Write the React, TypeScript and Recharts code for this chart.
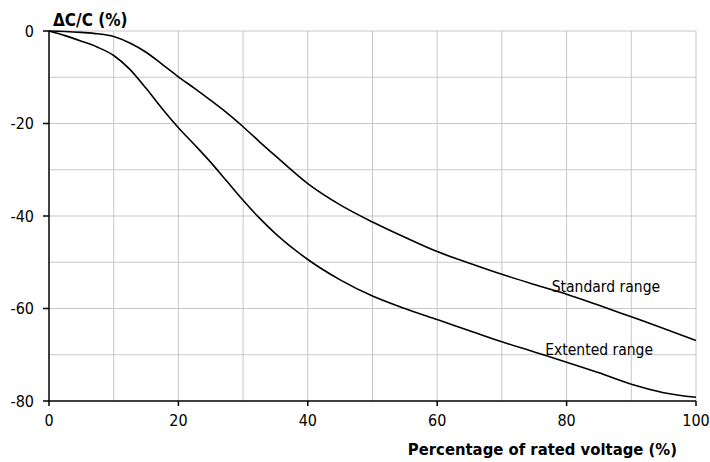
import React from 'react'
import { LineChart, Line, XAxis, YAxis, CartesianGrid, ReferenceDot } from 'recharts'

const voltage = [0, 2.5, 5, 7.5, 10, 12.5, 15, 17.5, 20, 22.5, 25, 27.5, 30, 32.5, 35, 40, 45, 50, 55, 60, 65, 70, 75, 80, 85, 90, 95, 100]
const standardRange = [0, -0.1, -0.3, -0.6, -1.2, -2.6, -4.6, -7.2, -9.9, -12.4, -15.0, -17.7, -20.7, -23.9, -27.0, -33.0, -37.6, -41.3, -44.6, -47.7, -50.2, -52.6, -54.8, -56.9, -59.3, -61.8, -64.3, -66.9]
const extendedRange = [0, -1.0, -2.2, -3.5, -5.3, -8.3, -12.4, -16.8, -20.9, -24.6, -28.4, -32.5, -36.6, -40.4, -43.8, -49.4, -53.8, -57.3, -60.0, -62.4, -64.8, -67.2, -69.4, -71.6, -73.9, -76.4, -78.2, -79.2]

const xTicks = [0, 20, 40, 60, 80, 100]
const yTicks = [0, -20, -40, -60, -80]
const xGrid = [10, 20, 30, 40, 50, 60, 70, 80, 90, 100]
const yGrid = [0, -10, -20, -30, -40, -50, -60, -70]

const data = voltage.map((v, i) => ({ v, std: standardRange[i], ext: extendedRange[i] }))

const font = '"DejaVu Sans Condensed", "DejaVu Sans", sans-serif'

const note = (text: string) => (props: any) => {
  const vb = props.viewBox || {}
  return (
    <text x={vb.x} y={vb.y} fontFamily={font} fontSize={15.5} fill="#000">
      {text}
    </text>
  )
}

export default function App() {
  return (
    <div style={{ position: 'absolute', left: 0, top: 0, background: '#fff' }}>
      <LineChart width={710} height={462} data={data} margin={{ top: 31, right: 14, bottom: 31, left: 0 }}>
        <CartesianGrid stroke="#c8c8c8" verticalValues={xGrid} horizontalValues={yGrid} />
        <XAxis
          dataKey="v"
          type="number"
          domain={[0, 100]}
          ticks={xTicks}
          height={30}
          stroke="#000"
          strokeWidth={1.5}
          tickSize={5}
          tickMargin={9}
          tick={{ fill: '#000', fontFamily: font, fontSize: 16 }}
          label={{
            content: () => (
              <text x={677} y={455} textAnchor="end" fontFamily={font} fontWeight="bold" fontSize={16.5} fill="#000">
                Percentage of rated voltage (%)
              </text>
            ),
          }}
        />
        <YAxis
          type="number"
          domain={[-80, 0]}
          ticks={yTicks}
          width={49}
          stroke="#000"
          strokeWidth={1.5}
          tickSize={6}
          tickMargin={9}
          tick={{ fill: '#000', fontFamily: font, fontSize: 16 }}
          label={{
            content: () => (
              <text x={53} y={26} fontFamily={font} fontWeight="bold" fontSize={17} fill="#000">
                ΔC/C (%)
              </text>
            ),
          }}
        />
        <Line type="monotone" dataKey="std" stroke="#000" strokeWidth={1.6} dot={false} isAnimationActive={false} />
        <Line type="monotone" dataKey="ext" stroke="#000" strokeWidth={1.6} dot={false} isAnimationActive={false} />
        <ReferenceDot x={77.7} y={-56.4} r={0} fill="none" stroke="none" label={{ content: note('Standard range') }} />
        <ReferenceDot x={76.7} y={-70.1} r={0} fill="none" stroke="none" label={{ content: note('Extented range') }} />
      </LineChart>
    </div>
  )
}
